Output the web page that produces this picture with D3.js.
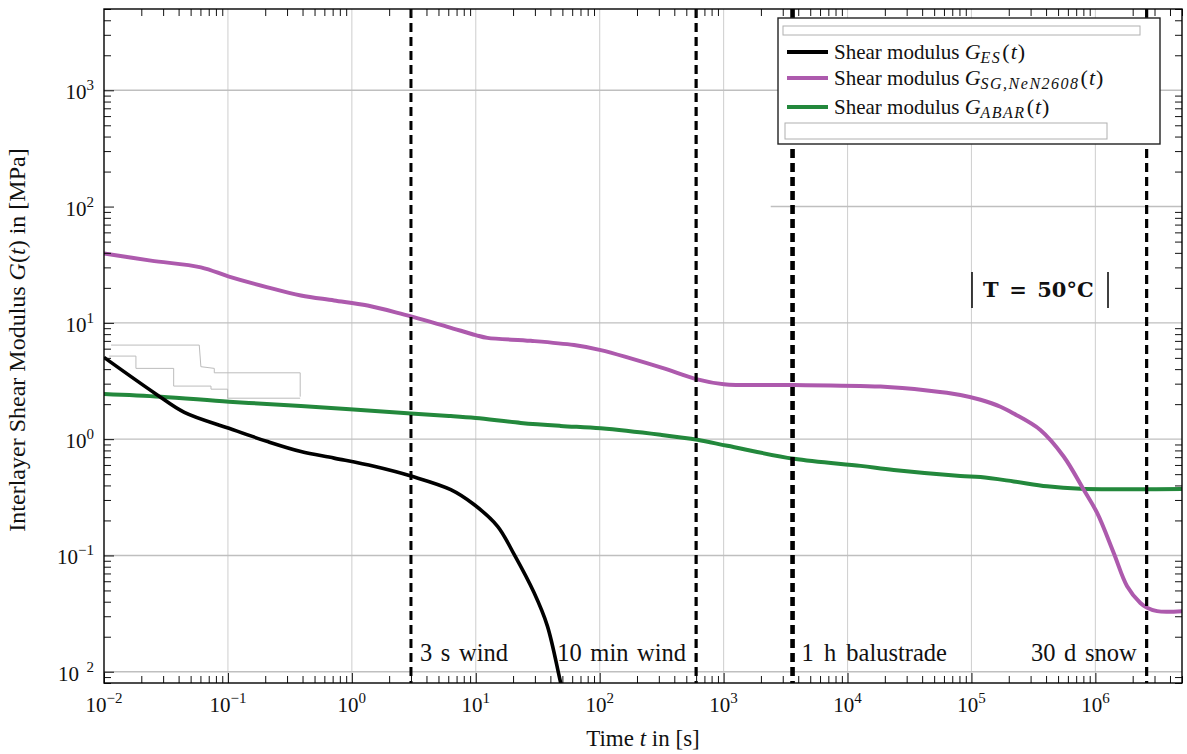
<!DOCTYPE html>
<html>
<head>
<meta charset="utf-8">
<script src="https://cdnjs.cloudflare.com/ajax/libs/d3/7.8.5/d3.min.js"></script>
<style>
  body { margin: 0; background: #fff; }
  svg { display: block; }
  text { font-family: "Liberation Serif", "DejaVu Serif", serif; fill: #111; }
  text.tbox { font-family: "DejaVu Serif", serif; font-weight: bold; }
</style>
</head>
<body>
<svg id="chart" width="1187" height="754"></svg>
<script>
// ---- data ----
var timeES = [0.01, 0.0262, 0.0445, 0.102, 0.209, 0.388, 0.719, 1.51, 3.05, 6.28, 9.68, 15.0, 20.4, 29.5, 37.8, 48.4, 55];
var shearES = [5.05, 2.45, 1.70, 1.24, 0.953, 0.783, 0.687, 0.584, 0.479, 0.368, 0.274, 0.178, 0.102, 0.0479, 0.0248, 0.00805, 0.0045];

var timeSG = [0.01, 0.0239, 0.0605, 0.102, 0.209, 0.388, 0.719, 1.34, 2.48, 5.92, 10, 12.4, 27.8, 62.1, 102, 178, 330, 614, 1005, 1371, 3690, 18450, 43950, 81470, 118300, 171400, 219300, 359700, 554600, 805400, 1.033e6, 1.406e6, 1.803e6, 2.307e6, 2.612e6, 3.148e6, 5e6];
var shearSG = [39.5, 34.3, 30.0, 25.0, 20.2, 17.2, 15.6, 14.1, 12.0, 9.25, 7.85, 7.43, 7.01, 6.44, 5.83, 4.95, 4.06, 3.27, 2.96, 2.92, 2.92, 2.83, 2.62, 2.40, 2.18, 1.90, 1.66, 1.20, 0.71, 0.367, 0.232, 0.105, 0.0544, 0.039, 0.0355, 0.0332, 0.0332];

var timeABAR = [0.01, 0.0288, 0.102, 0.388, 3.0, 6.28, 10, 23.1, 48.4, 102, 310, 614, 1072, 3690, 12740, 23600, 81470, 118300, 219300, 407400, 756800, 5e6];
var shearABAR = [2.45, 2.32, 2.10, 1.93, 1.66, 1.58, 1.52, 1.38, 1.30, 1.24, 1.09, 0.987, 0.877, 0.678, 0.589, 0.544, 0.483, 0.472, 0.433, 0.393, 0.375, 0.372];

// faint grey stepped traces left in the figure
var ghostA = [[0.0114, 6.44], [0.0587, 6.44], [0.0605, 4.20], [0.0776, 4.06], [0.0776, 3.72], [0.383, 3.72], [0.383, 2.32]];
var ghostB = [[0.0110, 5.18], [0.0181, 5.18], [0.0181, 4.06], [0.0365, 4.06], [0.0365, 2.86], [0.0730, 2.86], [0.0730, 2.69], [0.0995, 2.69], [0.0995, 2.25], [0.383, 2.25]];

var markerTimes = [3, 600, 3600, 2592000];
var markerLabels = ["3 s wind", "10 min wind", "1 h balustrade", "30 d snow"];

var xDecades = [-2, -1, 0, 1, 2, 3, 4, 5, 6];
var yDecades = [-2, -1, 0, 1, 2, 3];
var yExpLabels = ["\u00a0\u00a02", "\u22121", "0", "1", "2", "3"];

var legendSubs = ["ES", "SG,NeN2608", "ABAR"];
var legendColors = ['#000000', '#ad5aad', '#23883c'];

// ---- layout ----
var width = 1187, height = 754;
var margin = {top: 9, right: 5, bottom: 71, left: 104};
var svg = d3.select('#chart');

var x = d3.scaleLog().domain([1e-2, 5e6]).range([margin.left, width - margin.right]);
var y = d3.scaleLog().domain([8e-3, 5e3]).range([height - margin.bottom, margin.top]);

var x0 = margin.left, x1 = width - margin.right;
var y0 = height - margin.bottom, y1 = margin.top;

svg.append('rect').attr('width', width).attr('height', height).attr('fill', '#fff');

svg.append('defs').append('clipPath').attr('id', 'plotclip')
  .append('rect').attr('x', x0).attr('y', y1).attr('width', x1 - x0).attr('height', y0 - y1);

// grid
var grid = svg.append('g');
xDecades.slice(1).forEach(function(e) {
  grid.append('line')
    .attr('x1', x(Math.pow(10, e))).attr('x2', x(Math.pow(10, e)))
    .attr('y1', y1).attr('y2', y0)
    .attr('stroke', '#d2d2d2').attr('stroke-width', 1.1);
});
yDecades.forEach(function(e) {
  var v = Math.pow(10, e);
  grid.append('line')
    .attr('x1', e === 2 ? x(2400) : x0).attr('x2', x1)
    .attr('y1', y(v)).attr('y2', y(v))
    .attr('stroke', '#bfbfbf').attr('stroke-width', 1.4);
});

// ghost traces
var ghostLine = d3.line().x(function(d) { return x(d[0]); }).y(function(d) { return y(d[1]); });
[ghostA, ghostB].forEach(function(g) {
  svg.append('path').attr('d', ghostLine(g))
    .attr('fill', 'none').attr('stroke', '#bcbcbc').attr('stroke-width', 1);
});

// curves
var curveLine = d3.line()
  .x(function(d) { return x(d[0]); })
  .y(function(d) { return y(d[1]); })
  .curve(d3.curveCatmullRom.alpha(0.5));

var series = [
  {t: timeABAR, g: shearABAR, color: '#23883c', w: 4},
  {t: timeES, g: shearES, color: '#000000', w: 3.6},
  {t: timeSG, g: shearSG, color: '#ad5aad', w: 4}
];
var curves = svg.append('g').attr('clip-path', 'url(#plotclip)');
series.forEach(function(s) {
  curves.append('path')
    .attr('d', curveLine(d3.zip(s.t, s.g)))
    .attr('fill', 'none')
    .attr('stroke', s.color)
    .attr('stroke-width', s.w)
    .attr('stroke-linejoin', 'round');
});

// dashed load duration markers
var markerWidths = [3, 3.2, 4.6, 3.2];
markerTimes.forEach(function(t, i) {
  var mx = x(t);
  svg.append('line')
    .attr('x1', mx).attr('x2', mx).attr('y1', y1).attr('y2', y0)
    .attr('stroke', '#000').attr('stroke-width', markerWidths[i])
    .attr('stroke-dasharray', '9,5');
  var leftSide = (i === 1 || i === 3);
  svg.append('text')
    .attr('x', leftSide ? mx - 10 : mx + 9)
    .attr('y', y0 - 22)
    .attr('text-anchor', leftSide ? 'end' : 'start')
    .attr('font-size', 24.5)
    .attr('word-spacing', i === 2 ? 4 : 2.5)
    .text(markerLabels[i]);
});

// axes: inward ticks on all four sides
function decadeTicks(lo, hi, dmin, dmax) {
  var out = [];
  for (var e = lo; e <= hi; e++) {
    for (var m = 2; m <= 9; m++) {
      var v = m * Math.pow(10, e);
      if (v >= dmin && v <= dmax) out.push(v);
    }
  }
  return out;
}
var xMinor = decadeTicks(-2, 6, 1e-2, 5e6);
var yMinor = decadeTicks(-3, 3, 8e-3, 5e3);
var xMajor = xDecades.map(function(e) { return Math.pow(10, e); });
var yMajor = yDecades.map(function(e) { return Math.pow(10, e); });

function styleAxis(g) {
  g.select('.domain').remove();
  g.selectAll('line').attr('stroke', '#111').attr('stroke-width', 1);
}
svg.append('g').attr('transform', 'translate(0,' + y0 + ')')
  .call(d3.axisBottom(x).tickValues(xMinor).tickSize(-7).tickFormat('')).call(styleAxis);
svg.append('g').attr('transform', 'translate(0,' + y1 + ')')
  .call(d3.axisTop(x).tickValues(xMinor).tickSize(-7).tickFormat('')).call(styleAxis);
svg.append('g').attr('transform', 'translate(' + x0 + ',0)')
  .call(d3.axisLeft(y).tickValues(yMinor).tickSize(-7).tickFormat('')).call(styleAxis);
svg.append('g').attr('transform', 'translate(' + x1 + ',0)')
  .call(d3.axisRight(y).tickValues(yMinor).tickSize(-7).tickFormat('')).call(styleAxis);
svg.append('g').attr('transform', 'translate(0,' + y0 + ')')
  .call(d3.axisBottom(x).tickValues(xMajor).tickSize(-10).tickFormat('')).call(styleAxis);
svg.append('g').attr('transform', 'translate(' + x0 + ',0)')
  .call(d3.axisLeft(y).tickValues(yMajor).tickSize(-10).tickFormat('')).call(styleAxis);

svg.append('rect')
  .attr('x', x0).attr('y', y1).attr('width', x1 - x0).attr('height', y0 - y1)
  .attr('fill', 'none').attr('stroke', '#000').attr('stroke-width', 1.4);

// tick labels
xDecades.forEach(function(e) {
  var t = svg.append('text')
    .attr('x', x(Math.pow(10, e))).attr('y', y0 + 29)
    .attr('text-anchor', 'middle').attr('font-size', 21);
  t.append('tspan').text('10');
  t.append('tspan').attr('dy', -9).attr('font-size', 15).text(e < 0 ? '\u2212' + (-e) : String(e));
});
yDecades.forEach(function(e, i) {
  var t = svg.append('text')
    .attr('x', x0 - 10).attr('y', y(Math.pow(10, e)) + 9)
    .attr('text-anchor', 'end').attr('font-size', 21);
  t.append('tspan').text('10');
  t.append('tspan').attr('dy', -9).attr('font-size', 15).text(yExpLabels[i]);
});

// axis titles
var xt = svg.append('text')
  .attr('x', (x0 + x1) / 2).attr('y', 746)
  .attr('text-anchor', 'middle').attr('font-size', 23);
xt.append('tspan').text('Time ');
xt.append('tspan').attr('font-style', 'italic').text('t');
xt.append('tspan').text(' in [s]');

var yt = svg.append('text')
  .attr('transform', 'translate(25,' + ((y0 + y1) / 2 - 6) + ') rotate(-90)')
  .attr('text-anchor', 'middle').attr('font-size', 24);
yt.append('tspan').text('Interlayer Shear Modulus ');
yt.append('tspan').attr('font-style', 'italic').text('G');
yt.append('tspan').text('(');
yt.append('tspan').attr('font-style', 'italic').text('t');
yt.append('tspan').text(') in [MPa]');

// temperature box
var tb = svg.append('g');
tb.append('line').attr('x1', 972).attr('x2', 972).attr('y1', 272).attr('y2', 308).attr('stroke', '#000').attr('stroke-width', 1.5);
tb.append('line').attr('x1', 1108).attr('x2', 1108).attr('y1', 272).attr('y2', 308).attr('stroke', '#000').attr('stroke-width', 1.5);
tb.append('text').attr('class', 'tbox').attr('x', 983).attr('y', 297)
  .attr('font-size', 21)
  .text('T\u2002=\u200250\u00b0C');

// legend
var lg = svg.append('g');
lg.append('rect').attr('x', 778).attr('y', 18).attr('width', 382).attr('height', 126)
  .attr('fill', '#fff').attr('stroke', '#222').attr('stroke-width', 1.4);
lg.append('rect').attr('x', 783).attr('y', 26).attr('width', 357).attr('height', 9)
  .attr('fill', 'none').attr('stroke', '#b0b0b0').attr('stroke-width', 1);
lg.append('rect').attr('x', 785).attr('y', 123).attr('width', 322).attr('height', 16)
  .attr('fill', 'none').attr('stroke', '#b0b0b0').attr('stroke-width', 1);
var legendY = [52, 78, 107];
legendSubs.forEach(function(sub, i) {
  lg.append('line').attr('x1', 787).attr('x2', 828)
    .attr('y1', legendY[i]).attr('y2', legendY[i])
    .attr('stroke', legendColors[i]).attr('stroke-width', 4);
  var t = lg.append('text').attr('x', 834).attr('y', legendY[i] + 7).attr('font-size', 21);
  t.append('tspan').text('Shear modulus ');
  t.append('tspan').attr('font-style', 'italic').attr('font-size', 22).text('G');
  t.append('tspan').attr('font-style', 'italic').attr('font-size', 16).attr('dy', 4)
    .attr('letter-spacing', 1.5).text(sub);
  t.append('tspan').attr('dy', -4).attr('font-size', 22).attr('dx', 1).text('(');
  t.append('tspan').attr('font-style', 'italic').attr('font-size', 22).attr('dx', 1).text('t');
  t.append('tspan').attr('font-size', 22).attr('dx', 1).text(')');
});
</script>
</body>
</html>
